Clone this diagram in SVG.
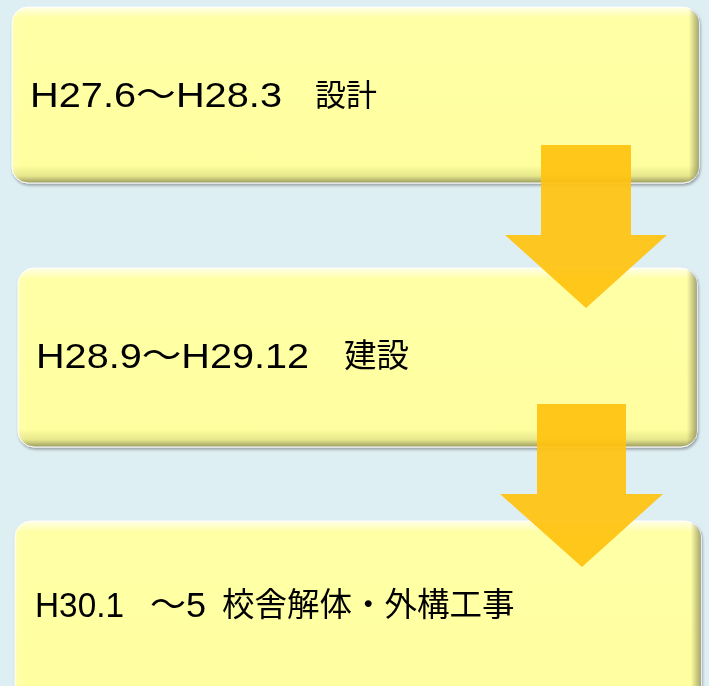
<svg xmlns="http://www.w3.org/2000/svg" width="709" height="686" viewBox="0 0 709 686">
<style>
.lbl{font-family:"Liberation Sans","Noto Sans CJK JP",sans-serif;font-size:35px;fill:#000}
.cjk{font-family:"Noto Sans CJK JP",sans-serif;font-size:31px;fill:#000}
.arrow{fill:#FFC20E;opacity:0.92}
</style>
<defs>
<linearGradient id="gv" x1="0" y1="0" x2="0" y2="1">
<stop offset="0" stop-color="#FFFFE8"/>
<stop offset="0.06" stop-color="#FFFFA6"/>
<stop offset="0.9" stop-color="#FFFFA0"/>
<stop offset="0.96" stop-color="#E6E68C"/>
<stop offset="1" stop-color="#9A9A60"/>
</linearGradient>
<linearGradient id="gh" x1="0" y1="0" x2="1" y2="0">
<stop offset="0" stop-color="#FFFFFF" stop-opacity="0.15"/>
<stop offset="0.015" stop-color="#FFFFFF" stop-opacity="0"/>
<stop offset="0.985" stop-color="#000000" stop-opacity="0"/>
<stop offset="1" stop-color="#000000" stop-opacity="0.35"/>
</linearGradient>
<filter id="sh" x="-5%" y="-10%" width="110%" height="125%">
<feGaussianBlur in="SourceAlpha" stdDeviation="1.5"/>
<feOffset dx="1" dy="2" result="b"/>
<feComponentTransfer><feFuncA type="linear" slope="0.35"/></feComponentTransfer>
<feMerge><feMergeNode/><feMergeNode in="SourceGraphic"/></feMerge>
</filter>
</defs>
<rect width="709" height="686" fill="#DEEFF4"/>
<g id="node1" filter="url(#sh)">
<rect x="12" y="7" width="687" height="176" rx="16" fill="url(#gv)" stroke="#FFFFFF" stroke-width="1"/>
<rect x="12" y="7" width="687" height="176" rx="16" fill="url(#gh)"/>
<text class="lbl" x="30" y="107" textLength="252" lengthAdjust="spacingAndGlyphs">H27.6～H28.3</text>
<text class="cjk" x="315" y="106">設計</text>
</g>
<g id="node2" filter="url(#sh)">
<rect x="18" y="268" width="679" height="179" rx="16" fill="url(#gv)" stroke="#FFFFFF" stroke-width="1"/>
<rect x="18" y="268" width="679" height="179" rx="16" fill="url(#gh)"/>
<text class="lbl" x="36" y="368" textLength="273" lengthAdjust="spacingAndGlyphs">H28.9～H29.12</text>
<text class="cjk" x="344" y="367" style="font-size:32.5px">建設</text>
</g>
<g id="node3" filter="url(#sh)">
<rect x="15" y="521" width="686" height="185" rx="16" fill="url(#gv)" stroke="#FFFFFF" stroke-width="1"/>
<rect x="15" y="521" width="686" height="185" rx="16" fill="url(#gh)"/>
<text class="lbl" y="617"><tspan x="35" textLength="89" lengthAdjust="spacingAndGlyphs">H30.1</tspan> <tspan x="150" textLength="56" lengthAdjust="spacingAndGlyphs">～5</tspan></text>
<text class="cjk" x="222" y="616" style="font-size:32.5px">校舎解体・外構工事</text>
</g>
<g id="connectors">
<polygon class="arrow" points="541,145 631,145 631,235 667,235 586,308 505,235 541,235"/>
<polygon class="arrow" points="537,404 626,404 626,494 663,494 582,567 500,494 537,494"/>
</g>
</svg>
